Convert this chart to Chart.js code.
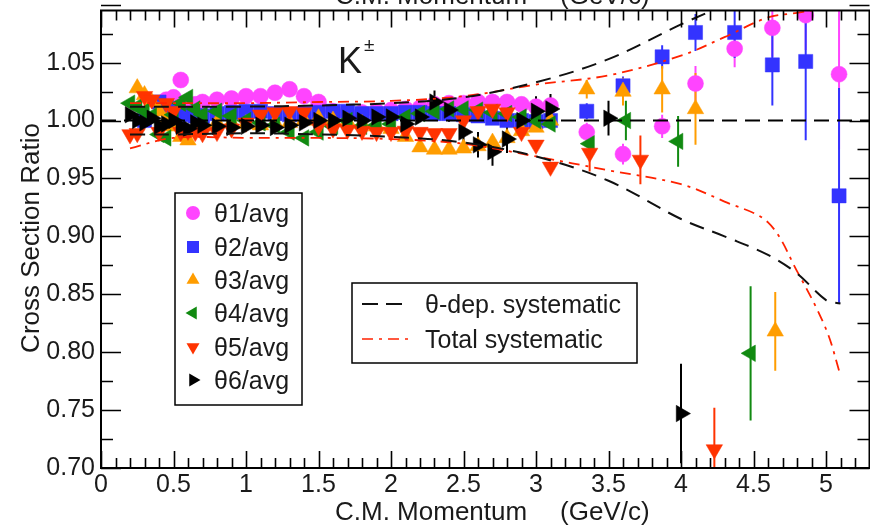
<!DOCTYPE html>
<html>
<head>
<meta charset="utf-8">
<script src="https://cdn.jsdelivr.net/npm/chart.js@4.4.1/dist/chart.umd.min.js"></script>
<style>
html, body { margin: 0; padding: 0; background: #fff; overflow: hidden; }
canvas { display: block; }
</style>
</head>
<body>
<canvas id="ratioChart" width="880" height="528"></canvas>
<script>
// low momentum points (shared momentum grid, GeV/c)
const pLow = [0.2, 0.25, 0.3, 0.35, 0.4, 0.45, 0.5, 0.55, 0.6, 0.65, 0.7,
    0.8, 0.9, 1.0, 1.1, 1.2, 1.3, 1.4, 1.5, 1.6, 1.7, 1.8, 1.9, 2.0, 2.1, 2.2,
    2.3, 2.4, 2.5, 2.6, 2.7, 2.8, 2.9, 3.0, 3.1];

const th1Low = [null, null, null, null, null, 1.018, 1.020, 1.035, 1.012, 1.014, 1.016,
    1.018, 1.019, 1.021, 1.021, 1.024, 1.027, 1.021, 1.016, 1.008, 1.006, 1.007, 1.008, 1.009, 1.010, 1.011,
    1.014, 1.015, 1.015, 1.016, 1.016, 1.016, 1.014, 1.012, 1.013];
const th2Low = [null, null, 1.000, null, 1.016, 1.012, 1.010, 1.006, 1.005, 1.004, 1.004,
    1.006, 1.007, 1.008, 1.008, 1.006, 1.005, 1.006, 1.007, 1.008, 1.008, 1.006, 1.006, 1.006, 1.007, 1.007,
    1.006, 1.006, 1.005, 1.004, 1.002, 1.000, 1.000, 0.999, 1.000];
const th3Low = [null, 1.028, 1.022, 1.016, 1.008, 1.000, 0.995, 0.986, 0.983, 0.990, 0.995,
    0.998, 0.998, 0.997, 0.996, 0.998, 0.998, 1.000, 1.002, 1.000, 0.999, 0.997, 0.995, 0.993, 0.986, 0.977,
    0.975, 0.975, 0.976, 0.978, 0.981, 0.985, 0.991, 0.994, 1.000];
const th4Low = [1.015, 1.012, 1.008, 1.004, 0.988, 0.985, 1.005, 1.015, 1.020, 1.010, 1.005,
    1.008, 1.004, 1.000, 0.998, 0.996, 0.990, 0.985, 0.990, 0.995, 1.000, 0.995, 0.996, 0.997, 1.003, 1.006,
    1.008, 1.010, 1.010, 1.009, 1.007, 1.006, 1.003, 1.000, 0.997];
const th5Low = [0.988, 0.989, 1.021, 1.018, 0.990, 1.015, 1.008, 0.990, 0.991, 0.990, 0.989,
    0.990, 0.993, 0.998, 1.005, 1.007, 1.008, 1.007, 0.995, 0.993, 0.992, 0.991, 0.990, 0.990, 0.991, 0.990,
    0.989, 0.989, 1.000, 1.008, 1.010, 1.007, 0.990, 0.979, 0.960];
const th6Low = [1.005, 1.000, 0.998, 1.002, 0.995, 0.997, 1.000, 0.995, 0.993, 0.998, 0.996,
    0.995, 0.994, 0.995, 0.996, 0.994, 0.996, 0.998, 1.000, 1.000, 1.002, 1.000, 1.003, 1.003, 0.997, 1.003,
    1.016, 1.009, 0.990, 0.979, 0.973, 0.984, 1.000, 1.008, 1.010];
const th6LowErr = [0.004, 0.004, 0.004, 0.004, 0.004, 0.004, 0.004, 0.004, 0.004, 0.004, 0.004,
    0.004, 0.004, 0.004, 0.004, 0.004, 0.004, 0.004, 0.004, 0.004, 0.004, 0.004, 0.004, 0.004, 0.004, 0.004,
    0.010, 0.010, 0.011, 0.011, 0.012, 0.012, 0.012, 0.013, 0.013];

// high momentum points with error bars
const th1HiP = [3.35, 3.6, 3.87, 4.1, 4.37, 4.63, 4.86, 5.09];
const th1HiR = [0.990, 0.971, 0.995, 1.032, 1.062, 1.080, 1.091, 1.040];
const th1HiE = [0.008, 0.009, 0.010, 0.015, 0.016, 0.025, 0.030, 0.065];
const th2HiP = [3.35, 3.6, 3.87, 4.1, 4.37, 4.63, 4.86, 5.09];
const th2HiR = [1.008, 1.030, 1.055, 1.076, 1.076, 1.048, 1.051, 0.935];
const th2HiE = [0.007, 0.008, 0.010, 0.016, 0.022, 0.035, 0.068, 0.093];
const th3HiP = [3.35, 3.6, 3.87, 4.1, 4.65];
const th3HiR = [1.027, 1.025, 1.027, 1.010, 0.818];
const th3HiE = [0.008, 0.012, 0.020, 0.031, 0.034];
const th4HiP = [3.37, 3.62, 3.98, 4.48];
const th4HiR = [0.980, 1.000, 0.982, 0.799];
const th4HiE = [0.008, 0.017, 0.022, 0.058];
const th5HiP = [3.37, 3.72, 4.23];
const th5HiR = [0.972, 0.966, 0.716];
const th5HiE = [0.016, 0.021, 0.036];
const th6HiP = [3.5, 4.0];
const th6HiR = [1.002, 0.747];
const th6HiE = [0.015, 0.043];

// systematic bands
const sysP = [0.2, 0.5, 1.0, 1.5, 2.0, 2.5, 3.0, 3.5, 4.0, 4.3, 4.6, 4.8, 5.0, 5.1];
const thetaSysUp = [1.012, 1.012, 1.012, 1.013, 1.015, 1.020, 1.033, 1.053, 1.083, 1.100, 1.120, 1.130, 1.140, 1.145];
const thetaSysLo = [0.988, 0.988, 0.989, 0.988, 0.986, 0.981, 0.969, 0.948, 0.915, 0.900, 0.884, 0.868, 0.845, 0.842];
const totalSysUp = [1.015, 1.015, 1.015, 1.016, 1.017, 1.021, 1.031, 1.039, 1.056, 1.072, 1.089, 1.093, 1.097, 1.100];
const totalSysLo = [0.976, 0.985, 0.985, 0.985, 0.984, 0.980, 0.969, 0.957, 0.945, 0.930, 0.912, 0.870, 0.820, 0.780];
const unityP = [0, 5.3];
const unityR = [1, 1];

const xTickVals = [0, 0.5, 1, 1.5, 2, 2.5, 3, 3.5, 4, 4.5, 5];
const xTickLabels = ['0', '0.5', '1', '1.5', '2', '2.5', '3', '3.5', '4', '4.5', '5'];
const yTickVals = [0.70, 0.75, 0.80, 0.85, 0.90, 0.95, 1.00, 1.05];
const yTickLabels = ['0.70', '0.75', '0.80', '0.85', '0.90', '0.95', '1.00', '1.05'];

const seriesNames = ['\u03b81/avg', '\u03b82/avg', '\u03b83/avg', '\u03b84/avg', '\u03b85/avg', '\u03b86/avg'];
const seriesColors = ['#ff44ff', '#3333ff', '#ff9d00', '#118a11', '#ff3300', '#000000'];
const FONT = '"Liberation Sans", Arial, sans-serif';

function pts(px, py) {
    return px.map((p, i) => ({ x: p, y: py[i] }));
}

const markers = [
    { style: 'circle', r: 8, rot: 0, legendR: 7 },
    { style: 'rect', r: 10, rot: 0, legendR: 8.5 },
    { style: 'triangle', r: 9.5, rot: 0, legendR: 7.5 },
    { style: 'triangle', r: 9.5, rot: -90, legendR: 7.5 },
    { style: 'triangle', r: 9.5, rot: 180, legendR: 7.5 },
    { style: 'triangle', r: 9.5, rot: 90, legendR: 7.5 }
];
const lowSets = [th1Low, th2Low, th3Low, th4Low, th5Low, th6Low];
const hiP = [th1HiP, th2HiP, th3HiP, th4HiP, th5HiP, th6HiP];
const hiR = [th1HiR, th2HiR, th3HiR, th4HiR, th5HiR, th6HiR];
const hiE = [th1HiE, th2HiE, th3HiE, th4HiE, th5HiE, th6HiE];

const pointSets = lowSets.map((low, k) => {
    const lowErr = k === 5 ? th6LowErr : pLow.map(() => 0);
    return {
        label: seriesNames[k],
        data: pts(pLow, low).concat(pts(hiP[k], hiR[k])),
        errors: lowErr.concat(hiE[k]),
        showLine: false,
        pointStyle: markers[k].style,
        pointRadius: markers[k].r,
        pointRotation: markers[k].rot,
        backgroundColor: seriesColors[k],
        borderColor: seriesColors[k],
        pointBorderWidth: 0.5,
        order: 6 - k
    };
});

function sysLine(py, color, dash, width) {
    return {
        data: pts(sysP, py), showLine: true, pointRadius: 0, borderColor: color,
        borderWidth: width, borderDash: dash, tension: 0.35, order: 0, fill: false
    };
}

const lineSets = [
    { data: pts(unityP, unityR), showLine: true, pointRadius: 0, borderColor: '#000', borderWidth: 2, borderDash: [15, 8], order: 0 },
    sysLine(thetaSysUp, '#111', [15, 9], 2),
    sysLine(thetaSysLo, '#111', [15, 9], 2),
    sysLine(totalSysUp, '#ff2200', [11, 6, 3, 6], 1.8),
    sysLine(totalSysLo, '#ff2200', [11, 6, 3, 6], 1.8)
];

const decor = {
    id: 'decor',
    beforeDatasetsDraw(chart) {
        const { ctx, chartArea: a, scales: { x, y } } = chart;
        ctx.save();
        ctx.beginPath();
        ctx.rect(a.left, a.top, a.right - a.left, a.bottom - a.top);
        ctx.clip();
        ctx.lineWidth = 2;
        chart.data.datasets.forEach(ds => {
            if (!ds.errors) return;
            ctx.strokeStyle = ds.borderColor;
            ds.data.forEach((d, j) => {
                const e = ds.errors[j];
                if (d.y === null || !e) return;
                const px = x.getPixelForValue(d.x);
                ctx.beginPath();
                ctx.moveTo(px, y.getPixelForValue(d.y + e));
                ctx.lineTo(px, y.getPixelForValue(d.y - e));
                ctx.stroke();
            });
        });
        ctx.restore();
    },
    afterDatasetsDraw(chart) {
        const { ctx, chartArea: a, scales: { x, y } } = chart;
        ctx.save();
        ctx.strokeStyle = '#000';
        ctx.lineWidth = 2;
        ctx.strokeRect(a.left, a.top, a.right - a.left, a.bottom - a.top);
        ctx.lineWidth = 1.6;
        ctx.beginPath();
        for (let i = 0; i <= 53; i++) {
            const v = i / 10;
            const px = Math.round(x.getPixelForValue(v)) + 0.5;
            const len = i % 5 === 0 ? 17 : 10;
            ctx.moveTo(px, a.bottom); ctx.lineTo(px, a.bottom - len);
            ctx.moveTo(px, a.top); ctx.lineTo(px, a.top + len);
        }
        for (let i = 0; i <= 16; i++) {
            const v = 0.7 + i * 0.025;
            const py = Math.round(y.getPixelForValue(v)) + 0.5;
            const len = i % 2 === 0 ? 20 : 12;
            ctx.moveTo(a.left, py); ctx.lineTo(a.left + len, py);
            ctx.moveTo(a.right, py); ctx.lineTo(a.right - len, py);
        }
        ctx.stroke();
        ctx.restore();
    },
    afterDraw(chart) {
        const ctx = chart.ctx;
        ctx.save();
        ctx.fillStyle = '#1a1a1a';
        ctx.textBaseline = 'alphabetic';
        ctx.textAlign = 'left';
        // axis titles (bottom, and the clipped mirrored one at the top)
        ctx.font = '26px ' + FONT;
        ctx.fillText('C.M. Momentum', 335, 520);
        ctx.fillText('(GeV/c)', 560, 520);
        ctx.fillText('C.M. Momentum', 335, 4);
        ctx.fillText('(GeV/c)', 560, 4);
        ctx.save();
        ctx.translate(39, 238);
        ctx.rotate(-Math.PI / 2);
        ctx.textAlign = 'center';
        ctx.fillText('Cross Section Ratio', 0, 0);
        ctx.restore();
        // particle label
        ctx.font = '36px ' + FONT;
        ctx.fillText('K', 338, 73);
        ctx.font = '19px ' + FONT;
        ctx.fillText('\u00b1', 364, 51);

        // marker legend
        ctx.fillStyle = '#fff';
        ctx.fillRect(175, 193, 127, 212);
        ctx.strokeStyle = '#000';
        ctx.lineWidth = 1.5;
        ctx.strokeRect(175, 193, 127, 212);
        const rows = [213, 247, 280, 313, 347, 380];
        rows.forEach((ry, k) => {
            ctx.fillStyle = seriesColors[k];
            ctx.strokeStyle = seriesColors[k];
            Chart.helpers.drawPoint(ctx, { pointStyle: markers[k].style, radius: markers[k].legendR, rotation: markers[k].rot, borderWidth: 0 }, 193, ry);
            ctx.fillStyle = '#1a1a1a';
            ctx.font = '25px ' + FONT;
            ctx.fillText(seriesNames[k], 214, ry + 9);
        });

        // systematic legend
        ctx.fillStyle = '#fff';
        ctx.fillRect(352, 283, 285, 80);
        ctx.strokeStyle = '#000';
        ctx.lineWidth = 1.5;
        ctx.strokeRect(352, 283, 285, 80);
        ctx.lineWidth = 2;
        ctx.setLineDash([16, 8]);
        ctx.strokeStyle = '#111';
        ctx.beginPath(); ctx.moveTo(362, 304); ctx.lineTo(410, 304); ctx.stroke();
        ctx.setLineDash([11, 6, 3, 6]);
        ctx.lineWidth = 1.6;
        ctx.strokeStyle = '#ff2200';
        ctx.beginPath(); ctx.moveTo(362, 339); ctx.lineTo(410, 339); ctx.stroke();
        ctx.setLineDash([]);
        ctx.fillStyle = '#1a1a1a';
        ctx.font = '25px ' + FONT;
        ctx.fillText('\u03b8-dep. systematic', 425, 313);
        ctx.fillText('Total systematic', 425, 348);
        ctx.restore();
    }
};

new Chart(document.getElementById('ratioChart'), {
    type: 'scatter',
    data: { datasets: lineSets.concat(pointSets) },
    options: {
        responsive: false,
        devicePixelRatio: 1,
        animation: false,
        layout: { padding: { top: 9, right: 3, left: 0, bottom: 0 } },
        plugins: { legend: { display: false }, tooltip: { enabled: false } },
        scales: {
            x: {
                type: 'linear', min: 0, max: 5.3,
                grid: { display: false, drawTicks: false, tickLength: 0 }, border: { display: false },
                afterBuildTicks: s => { s.ticks = xTickVals.map(v => ({ value: v })); },
                afterFit: s => { s.height = 60; s.paddingLeft = 0; s.paddingRight = 0; },
                ticks: {
                    padding: 2, color: '#1a1a1a', font: { family: FONT, size: 25 },
                    maxRotation: 0, autoSkip: false,
                    callback: (v, i) => xTickLabels[i]
                }
            },
            y: {
                type: 'linear', min: 0.7, max: 1.095,
                grid: { display: false, drawTicks: false, tickLength: 0 }, border: { display: false },
                afterBuildTicks: s => { s.ticks = yTickVals.map(v => ({ value: v })); },
                afterFit: s => { s.width = 101; s.paddingTop = 0; s.paddingBottom = 0; },
                ticks: {
                    padding: 6, color: '#1a1a1a', font: { family: FONT, size: 25 },
                    autoSkip: false,
                    callback: (v, i) => yTickLabels[i]
                }
            }
        }
    },
    plugins: [decor]
});
</script>
</body>
</html>
